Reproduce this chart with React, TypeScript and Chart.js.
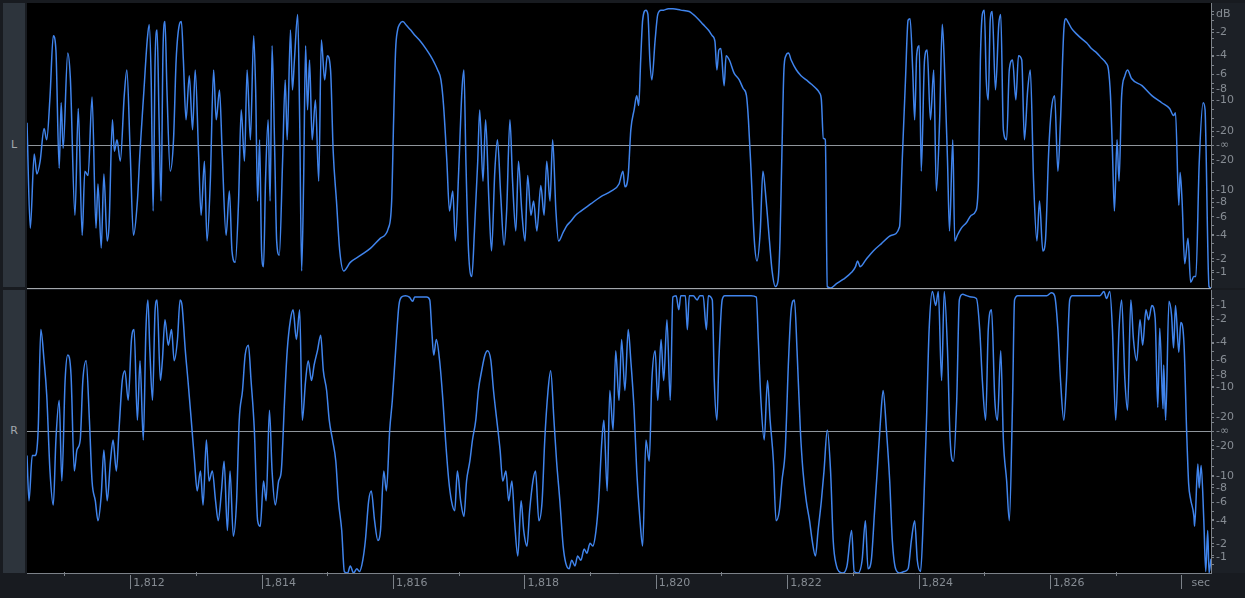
import React, { useEffect, useRef } from "react";
import { Chart, registerables } from "chart.js";

Chart.register(...registerables);

// ---- Data (time in seconds, amplitude -1..1) ----
const lTimes = [
  1810.43,1810.48,1810.54,1810.58,1810.63,1810.69,1810.73,1810.78,1810.83,1810.87,
  1810.92,1810.95,1810.98,1811.05,1811.09,1811.16,1811.21,1811.27,1811.31,1811.36,
  1811.42,1811.48,1811.51,1811.56,1811.60,1811.65,1811.68,1811.73,1811.76,1811.80,
  1811.85,1811.91,1811.95,1812.00,1812.05,1812.11,1812.15,1812.21,1812.26,1812.29,
  1812.32,1812.35,1812.38,1812.41,1812.44,1812.47,1812.50,1812.53,1812.56,1812.61,
  1812.66,1812.70,1812.75,1812.78,1812.81,1812.85,1812.90,1812.95,1812.99,1813.04,
  1813.08,1813.13,1813.17,1813.22,1813.27,1813.31,1813.36,1813.40,1813.46,1813.51,
  1813.55,1813.60,1813.65,1813.69,1813.74,1813.78,1813.83,1813.88,1813.91,1813.94,
  1813.97,1814.00,1814.03,1814.06,1814.10,1814.13,1814.16,1814.20,1814.23,1814.27,
  1814.32,1814.36,1814.39,1814.44,1814.47,1814.50,1814.55,1814.58,1814.61,1814.64,
  1814.67,1814.70,1814.73,1814.77,1814.82,1814.87,1814.91,1814.96,1815.00,1815.05,
  1815.09,1815.14,1815.19,1815.25,1815.35,1815.51,1815.66,1815.81,1815.93,1815.98,
  1816.01,1816.04,1816.07,1816.10,1816.15,1816.21,1816.27,1816.34,1816.42,1816.50,
  1816.57,1816.63,1816.68,1816.73,1816.77,1816.82,1816.86,1816.91,1816.95,1817.00,
  1817.05,1817.08,1817.11,1817.15,1817.20,1817.24,1817.29,1817.32,1817.37,1817.41,
  1817.46,1817.50,1817.55,1817.59,1817.64,1817.69,1817.73,1817.78,1817.82,1817.87,
  1817.91,1817.96,1818.01,1818.05,1818.10,1818.14,1818.19,1818.25,1818.30,1818.34,
  1818.39,1818.43,1818.48,1818.52,1818.59,1818.65,1818.71,1818.78,1818.86,1819.01,
  1819.16,1819.32,1819.44,1819.50,1819.53,1819.58,1819.62,1819.67,1819.71,1819.74,
  1819.77,1819.80,1819.85,1819.88,1819.91,1819.94,1819.99,1820.03,1820.08,1820.12,
  1820.19,1820.26,1820.38,1820.51,1820.57,1820.64,1820.72,1820.80,1820.86,1820.90,
  1820.93,1820.96,1820.99,1821.04,1821.07,1821.12,1821.19,1821.27,1821.33,1821.38,
  1821.41,1821.45,1821.50,1821.54,1821.59,1821.63,1821.68,1821.73,1821.77,1821.82,
  1821.86,1821.89,1821.92,1821.95,1821.98,1822.02,1822.06,1822.14,1822.21,1822.29,
  1822.37,1822.44,1822.49,1822.52,1822.55,1822.58,1822.61,1822.66,1822.75,1822.85,
  1822.98,1823.04,1823.07,1823.11,1823.20,1823.31,1823.43,1823.59,1823.71,1823.75,
  1823.80,1823.84,1823.87,1823.91,1823.94,1823.97,1824.01,1824.04,1824.09,1824.13,
  1824.18,1824.23,1824.27,1824.32,1824.36,1824.39,1824.44,1824.47,1824.52,1824.55,
  1824.59,1824.65,1824.73,1824.80,1824.87,1824.91,1824.94,1824.97,1825.00,1825.03,
  1825.06,1825.09,1825.12,1825.17,1825.22,1825.25,1825.29,1825.34,1825.38,1825.43,
  1825.48,1825.52,1825.57,1825.61,1825.66,1825.70,1825.75,1825.80,1825.84,1825.89,
  1825.93,1825.98,1826.02,1826.07,1826.12,1826.16,1826.21,1826.24,1826.27,1826.33,
  1826.41,1826.48,1826.56,1826.63,1826.71,1826.79,1826.85,1826.89,1826.92,1826.95,
  1826.98,1827.02,1827.05,1827.09,1827.14,1827.18,1827.24,1827.40,1827.55,1827.70,
  1827.82,1827.88,1827.91,1827.96,1827.98,1828.01,1828.05,1828.10,1828.14,1828.19,
  1828.22,1828.27,1828.33,1828.36,1828.37,1828.42,1828.45,
];

const lValues = [
  0.16,-0.58,-0.06,-0.20,-0.11,0.12,0.04,0.34,0.77,0.67,
  -0.16,0.30,-0.02,0.65,0.47,-0.49,0.26,-0.63,-0.18,-0.21,
  0.34,-0.58,-0.27,-0.72,-0.20,-0.67,-0.55,0.18,-0.04,0.04,
  -0.11,0.35,0.53,-0.04,-0.63,-0.39,-0.04,0.39,0.74,0.85,
  0.46,-0.46,0.60,0.81,0.18,-0.39,0.67,0.87,0.39,-0.18,
  0.04,0.60,0.85,0.87,0.60,0.18,0.49,0.11,0.53,-0.04,
  -0.49,-0.11,-0.67,-0.25,0.53,0.18,0.39,-0.04,-0.63,-0.32,
  -0.74,-0.82,-0.39,0.25,-0.11,0.53,0.04,0.77,0.39,-0.39,
  0.04,-0.74,-0.85,-0.25,0.18,-0.39,0.70,-0.04,-0.67,-0.77,
  -0.11,0.46,0.04,0.81,0.39,0.60,0.92,0.18,-0.88,-0.25,
  0.70,0.25,0.60,0.04,0.32,-0.25,0.74,0.46,0.63,0.53,
  -0.04,-0.39,-0.74,-0.88,-0.82,-0.77,-0.72,-0.65,-0.58,-0.39,
  0.18,0.67,0.81,0.85,0.87,0.84,0.81,0.77,0.73,0.68,
  0.63,0.58,0.53,0.46,0.28,-0.11,-0.46,-0.32,-0.67,-0.18,
  0.39,0.53,-0.11,-0.74,-0.92,-0.60,-0.11,0.25,-0.25,0.18,
  -0.39,-0.74,-0.18,0.04,-0.35,-0.70,-0.46,0.18,-0.25,-0.60,
  -0.11,-0.46,-0.67,-0.21,-0.49,-0.39,-0.60,-0.28,-0.49,-0.11,
  -0.39,0.04,-0.46,-0.67,-0.61,-0.56,-0.53,-0.49,-0.46,-0.41,
  -0.36,-0.32,-0.27,-0.18,-0.29,-0.21,0.11,0.25,0.35,0.28,
  0.60,0.88,0.95,0.92,0.60,0.46,0.74,0.92,0.95,0.95,
  0.96,0.96,0.95,0.94,0.92,0.89,0.85,0.81,0.77,0.73,
  0.53,0.67,0.68,0.42,0.63,0.60,0.51,0.46,0.40,0.35,
  0.18,-0.18,-0.67,-0.81,-0.60,-0.18,-0.39,-0.67,-0.88,-0.99,
  -0.95,-0.67,-0.04,0.53,0.63,0.65,0.60,0.53,0.49,0.46,
  0.43,0.40,0.37,0.32,0.05,0.04,-0.99,-1.00,-0.97,-0.94,
  -0.89,-0.85,-0.81,-0.85,-0.80,-0.74,-0.69,-0.63,-0.57,-0.11,
  0.46,0.88,0.89,0.53,0.18,0.63,0.70,-0.18,0.60,0.67,
  0.18,0.53,-0.32,0.18,0.85,0.60,-0.11,-0.60,0.04,-0.67,
  -0.63,-0.58,-0.54,-0.49,-0.46,-0.25,0.60,0.92,0.95,0.46,
  0.32,0.88,0.94,0.39,0.85,0.92,0.11,0.04,0.53,0.60,
  0.32,0.63,0.60,0.04,0.39,0.53,-0.25,-0.67,-0.39,-0.74,
  -0.67,-0.04,0.25,0.35,-0.18,0.18,0.81,0.89,0.87,0.82,
  0.78,0.75,0.72,0.68,0.65,0.61,0.58,0.53,0.35,-0.04,
  -0.46,0.04,-0.25,0.35,0.49,0.53,0.47,0.42,0.35,0.30,
  0.26,0.21,0.23,-0.42,-0.19,-0.39,-0.83,-0.65,-0.96,-0.92,
  -0.92,-0.13,0.30,0.25,0.08,-0.99,-1.00,
];

const rTimes = [
  1810.43,1810.46,1810.51,1810.55,1810.60,1810.64,1810.69,1810.73,1810.78,1810.83,
  1810.87,1810.92,1810.96,1811.01,1811.05,1811.10,1811.15,1811.19,1811.24,1811.28,
  1811.33,1811.38,1811.42,1811.47,1811.51,1811.56,1811.60,1811.65,1811.70,1811.74,
  1811.79,1811.83,1811.88,1811.92,1811.97,1812.02,1812.06,1812.11,1812.15,1812.20,
  1812.24,1812.27,1812.30,1812.34,1812.38,1812.41,1812.46,1812.49,1812.53,1812.58,
  1812.63,1812.67,1812.72,1812.76,1812.79,1812.84,1812.88,1812.93,1812.98,1813.02,
  1813.07,1813.11,1813.16,1813.20,1813.25,1813.30,1813.34,1813.39,1813.43,1813.48,
  1813.52,1813.57,1813.62,1813.66,1813.71,1813.75,1813.80,1813.84,1813.89,1813.94,
  1813.98,1814.03,1814.07,1814.12,1814.16,1814.21,1814.26,1814.30,1814.35,1814.39,
  1814.44,1814.48,1814.53,1814.58,1814.62,1814.67,1814.71,1814.76,1814.80,1814.85,
  1814.90,1814.94,1814.99,1815.03,1815.08,1815.13,1815.17,1815.22,1815.26,1815.31,
  1815.35,1815.40,1815.45,1815.49,1815.54,1815.58,1815.63,1815.67,1815.72,1815.77,
  1815.81,1815.86,1815.90,1815.95,1815.99,1816.04,1816.09,1816.13,1816.19,1816.25,
  1816.30,1816.33,1816.42,1816.51,1816.56,1816.59,1816.62,1816.66,1816.71,1816.76,
  1816.80,1816.85,1816.89,1816.94,1816.98,1817.03,1817.08,1817.12,1817.17,1817.21,
  1817.26,1817.30,1817.35,1817.40,1817.44,1817.49,1817.53,1817.58,1817.63,1817.67,
  1817.72,1817.76,1817.81,1817.85,1817.90,1817.95,1817.99,1818.04,1818.08,1818.13,
  1818.17,1818.22,1818.27,1818.31,1818.36,1818.40,1818.45,1818.49,1818.54,1818.59,
  1818.63,1818.68,1818.72,1818.77,1818.81,1818.86,1818.91,1818.95,1819.00,1819.04,
  1819.09,1819.13,1819.18,1819.21,1819.26,1819.30,1819.35,1819.39,1819.44,1819.48,
  1819.53,1819.58,1819.62,1819.67,1819.71,1819.76,1819.80,1819.85,1819.90,1819.94,
  1819.99,1820.03,1820.08,1820.12,1820.17,1820.22,1820.26,1820.31,1820.35,1820.38,
  1820.45,1820.48,1820.51,1820.57,1820.63,1820.67,1820.72,1820.77,1820.80,1820.86,
  1820.89,1820.93,1820.96,1821.01,1821.05,1821.15,1821.30,1821.45,1821.53,1821.56,
  1821.60,1821.65,1821.70,1821.74,1821.79,1821.83,1821.88,1821.92,1821.97,1822.02,
  1822.06,1822.11,1822.15,1822.20,1822.24,1822.29,1822.34,1822.38,1822.43,1822.47,
  1822.52,1822.56,1822.61,1822.66,1822.70,1822.75,1822.79,1822.85,1822.91,1822.98,
  1823.02,1823.08,1823.14,1823.19,1823.23,1823.28,1823.33,1823.37,1823.42,1823.46,
  1823.51,1823.56,1823.60,1823.65,1823.71,1823.78,1823.84,1823.89,1823.94,1823.98,
  1824.03,1824.07,1824.12,1824.16,1824.21,1824.26,1824.30,1824.35,1824.39,1824.44,
  1824.48,1824.53,1824.58,1824.62,1824.67,1824.73,1824.80,1824.88,1824.93,1824.97,
  1825.02,1825.06,1825.11,1825.16,1825.20,1825.25,1825.29,1825.34,1825.38,1825.43,
  1825.46,1825.51,1825.64,1825.80,1825.95,1826.02,1826.07,1826.12,1826.16,1826.21,
  1826.25,1826.30,1826.34,1826.48,1826.63,1826.76,1826.82,1826.86,1826.91,1826.95,
  1827.00,1827.05,1827.09,1827.14,1827.18,1827.23,1827.27,1827.32,1827.37,1827.41,
  1827.46,1827.50,1827.55,1827.60,1827.64,1827.67,1827.72,1827.73,1827.76,1827.81,
  1827.85,1827.88,1827.91,1827.96,1827.99,1828.04,1828.08,1828.11,1828.14,1828.19,
  1828.20,1828.25,1828.27,1828.30,1828.34,1828.37,1828.40,1828.42,1828.45,
];

const rValues = [
  -0.17,-0.49,-0.17,-0.17,0.01,0.72,0.50,0.26,-0.28,-0.52,
  -0.06,0.22,-0.35,0.36,0.54,0.40,-0.28,-0.13,-0.06,0.36,
  0.50,0.08,-0.35,-0.49,-0.63,-0.45,-0.13,-0.49,-0.21,-0.06,
  -0.28,0.01,0.36,0.43,0.22,0.65,0.72,0.08,0.50,-0.06,
  0.72,0.93,0.57,0.22,0.86,0.93,0.36,0.50,0.79,0.61,
  0.72,0.50,0.65,0.93,0.89,0.57,0.36,0.08,-0.21,-0.42,
  -0.28,-0.52,-0.06,-0.35,-0.28,-0.49,-0.63,-0.42,-0.21,-0.70,
  -0.28,-0.74,-0.49,0.08,0.29,0.54,0.61,0.36,0.01,-0.63,
  -0.67,-0.35,-0.49,0.15,-0.28,-0.52,-0.35,-0.28,0.22,0.57,
  0.79,0.86,0.65,0.86,0.08,0.36,0.50,0.36,0.47,0.57,
  0.68,0.43,0.29,0.08,-0.06,-0.21,-0.49,-0.70,-0.99,-1.00,
  -0.95,-1.00,-0.97,-0.99,-0.91,-0.77,-0.49,-0.42,-0.63,-0.77,
  -0.70,-0.28,-0.42,0.01,0.22,0.57,0.89,0.95,0.96,0.95,
  0.92,0.95,0.95,0.95,0.93,0.72,0.54,0.65,0.50,0.22,
  -0.06,-0.35,-0.49,-0.56,-0.28,-0.49,-0.60,-0.35,-0.21,-0.06,
  0.08,0.29,0.43,0.54,0.57,0.50,0.29,0.08,-0.13,-0.35,
  -0.28,-0.49,-0.35,-0.63,-0.88,-0.49,-0.70,-0.81,-0.56,-0.35,
  -0.28,-0.63,-0.49,-0.06,0.29,0.43,0.08,-0.21,-0.49,-0.81,
  -0.93,-0.97,-0.91,-0.95,-0.88,-0.91,-0.83,-0.86,-0.79,-0.81,
  -0.70,-0.49,-0.06,0.08,-0.42,0.29,0.01,0.57,0.22,0.65,
  0.29,0.72,0.50,0.15,-0.28,-0.63,-0.81,-0.06,-0.21,0.36,
  0.57,0.22,0.65,0.36,0.79,0.22,0.95,0.96,0.86,0.96,
  0.96,0.72,0.96,0.96,0.93,0.96,0.96,0.72,0.96,0.93,
  0.36,0.08,0.50,0.93,0.96,0.96,0.96,0.96,0.95,0.65,
  0.22,-0.06,0.36,0.08,-0.21,-0.63,-0.56,-0.35,-0.13,0.50,
  0.86,0.93,0.57,0.01,-0.28,-0.49,-0.63,-0.77,-0.88,-0.70,
  -0.49,-0.28,0.01,-0.28,-0.77,-0.95,-0.99,-1.00,-0.95,-0.70,
  -0.99,-1.00,-0.91,-0.63,-0.97,-0.91,-0.56,-0.28,0.08,0.29,
  0.01,-0.35,-0.77,-0.97,-1.00,-0.99,-0.97,-0.77,-0.63,-0.91,
  -0.99,-0.63,0.08,0.72,0.99,0.89,0.99,0.36,0.99,0.57,
  -0.06,-0.21,0.22,0.93,0.97,0.96,0.95,0.94,0.72,0.36,
  0.08,0.72,0.86,0.22,0.08,0.57,-0.06,-0.35,-0.63,0.22,
  0.93,0.96,0.96,0.96,0.96,0.98,0.96,0.72,0.36,0.08,
  0.36,0.93,0.96,0.96,0.96,0.96,0.99,0.94,0.99,0.72,
  0.08,0.72,0.93,0.36,0.15,0.93,0.65,0.50,0.79,0.61,
  0.86,0.79,0.89,0.80,0.17,0.73,0.16,0.47,0.08,0.92,
  0.82,0.59,0.89,0.56,0.77,0.61,-0.01,-0.37,-0.48,-0.60,
  -0.67,-0.23,-0.40,-0.24,-0.62,-0.99,-0.70,-1.00,-0.90,
];

// Time axis ticks (seconds) and dB levels shown on the amplitude axis
const secondTicks = [1811,1812,1813,1814,1815,1816,1817,1818,1819,1820,1821,1822,1823,1824,1825,1826,1827,1828];
const dbLevels = [1, 2, 4, 6, 8, 10, 20];
const timeMin = 1810.43;
const timeMax = 1828.45;

const FONT = { family: "'DejaVu Sans', Verdana, sans-serif", size: 11 };
const LINE_COLOR = "#4084ec";
const LABEL_COLOR = "#868c93";
const AXIS_COLOR = "#7c8289";
const CENTER_COLOR = "#8f959b";

type AmpTick = { value: number; label: string };

function ampTicks(top: boolean): AmpTick[] {
  const list: AmpTick[] = [];
  for (let i = -15; i <= 15; i++) if (i !== 0) list.push({ value: i / 16, label: "" });
  dbLevels.forEach((db) => {
    const a = Math.pow(10, -db / 20);
    if (!(top && db === 1)) list.push({ value: a, label: "-" + db });
    list.push({ value: -a, label: "-" + db });
  });
  if (top) list.push({ value: 0.92, label: "dB" });
  list.push({ value: 0, label: "-∞" });
  return list.sort((p, q) => p.value - q.value);
}

function makeChart(canvas: HTMLCanvasElement, times: number[], values: number[], top: boolean) {
  const ticks = ampTicks(top);
  const points = times.map((t, i) => ({ x: t, y: values[i] }));
  const decor = {
    id: "decor",
    beforeDraw(chart: any) {
      const { ctx, chartArea } = chart;
      ctx.save();
      ctx.fillStyle = "#1c2026";
      ctx.fillRect(0, 0, chart.width, chart.height);
      if (!top) {
        ctx.fillStyle = "#181b20";
        ctx.fillRect(0, chartArea.bottom, chart.width, chart.height - chartArea.bottom);
      }
      ctx.fillStyle = "#000000";
      ctx.fillRect(chartArea.left, chartArea.top, chartArea.right - chartArea.left, chartArea.bottom - chartArea.top);
      ctx.restore();
    },
    afterDraw(chart: any) {
      if (top) return;
      const { ctx, chartArea } = chart;
      const xs = chart.scales.x;
      ctx.save();
      ctx.strokeStyle = AXIS_COLOR;
      ctx.lineWidth = 1;
      secondTicks.forEach((v) => {
        const px = Math.round(xs.getPixelForValue(v)) + 0.5;
        const yb = chartArea.bottom;
        ctx.beginPath();
        if (v % 2 === 0) {
          ctx.moveTo(px, yb + 2);
          ctx.lineTo(px, yb + 16);
        } else {
          ctx.moveTo(px, yb - 1);
          ctx.lineTo(px, yb + 3);
        }
        ctx.stroke();
      });
      ctx.restore();
    },
  };

  return new Chart(canvas, {
    type: "line",
    data: {
      datasets: [
        {
          data: points,
          borderColor: LINE_COLOR,
          borderWidth: 1.5,
          pointRadius: 0,
          fill: false,
          cubicInterpolationMode: "monotone",
        },
      ],
    },
    options: {
      animation: false,
      responsive: false,
      maintainAspectRatio: false,
      events: [],
      layout: { padding: 0 },
      plugins: { legend: { display: false }, tooltip: { enabled: false } },
      scales: {
        x: {
          type: "linear",
          min: timeMin,
          max: timeMax,
          display: !top,
          position: "bottom",
          afterBuildTicks: (s: any) => {
            s.ticks = secondTicks.map((v) => ({ value: v }));
          },
          afterFit: (s: any) => {
            if (top) {
              s.height = 0;
            } else {
              s.height = 25;
            }
            s.paddingLeft = 0;
            s.paddingRight = 0;
          },
          ticks: {
            autoSkip: false,
            maxRotation: 0,
            minRotation: 0,
            align: "start",
            labelOffset: 3,
            padding: 4,
            color: LABEL_COLOR,
            font: FONT,
            callback: (v: any) =>
              v === 1828 ? "  sec" : v % 2 === 0 ? Number(v).toLocaleString("en-US") : "",
          },
          grid: { drawOnChartArea: false, drawTicks: false },
          border: { display: true, color: AXIS_COLOR, width: 1 },
        },
        y: {
          type: "linear",
          position: "right",
          min: -1,
          max: 1,
          afterBuildTicks: (s: any) => {
            s.ticks = ticks.map((t) => ({ value: t.value }));
          },
          afterFit: (s: any) => {
            s.width = 34;
            s.paddingTop = 0;
            s.paddingBottom = 0;
          },
          ticks: {
            autoSkip: false,
            padding: 2,
            color: LABEL_COLOR,
            font: FONT,
            callback: (_v: any, i: number) => ticks[i].label,
          },
          grid: {
            drawOnChartArea: true,
            drawTicks: true,
            tickLength: 3,
            tickColor: AXIS_COLOR,
            tickWidth: 1,
            lineWidth: 1,
            color: (c: any) => (c.tick && c.tick.value === 0 ? CENTER_COLOR : "rgba(0,0,0,0)"),
          },
          border: { display: true, color: AXIS_COLOR, width: 1 },
        },
      },
    },
    plugins: [decor],
  } as any);
}

export default function App() {
  const topRef = useRef<HTMLCanvasElement>(null);
  const botRef = useRef<HTMLCanvasElement>(null);

  useEffect(() => {
    if (!topRef.current || !botRef.current) return;
    const c1 = makeChart(topRef.current, lTimes, lValues, true);
    const c2 = makeChart(botRef.current, rTimes, rValues, false);
    return () => {
      c1.destroy();
      c2.destroy();
    };
  }, []);

  const labelStyle: React.CSSProperties = {
    position: "absolute",
    left: 3,
    width: 22,
    height: 14,
    lineHeight: "14px",
    textAlign: "center",
    color: "#a2a8ae",
    fontFamily: "'DejaVu Sans', Verdana, sans-serif",
    fontSize: 11,
  };

  return (
    <div
      style={{
        position: "fixed",
        left: 0,
        top: 0,
        width: 1245,
        height: 598,
        background: "#181b20",
        overflow: "hidden",
      }}
    >
      <div style={{ position: "absolute", left: 3, top: 3, width: 22, height: 284, background: "#2d343c" }} />
      <div style={{ position: "absolute", left: 3, top: 290, width: 22, height: 283, background: "#2d343c" }} />
      <div style={{ ...labelStyle, top: 138 }}>L</div>
      <div style={{ ...labelStyle, top: 424 }}>R</div>
      <canvas
        ref={topRef}
        width={1218}
        height={285}
        style={{ position: "absolute", left: 27, top: 3, width: 1218, height: 285 }}
      />
      <div style={{ position: "absolute", left: 27, top: 288, width: 1184, height: 1, background: "#a3a7ab" }} />
      <canvas
        ref={botRef}
        width={1218}
        height={308}
        style={{ position: "absolute", left: 27, top: 290, width: 1218, height: 308 }}
      />
    </div>
  );
}
